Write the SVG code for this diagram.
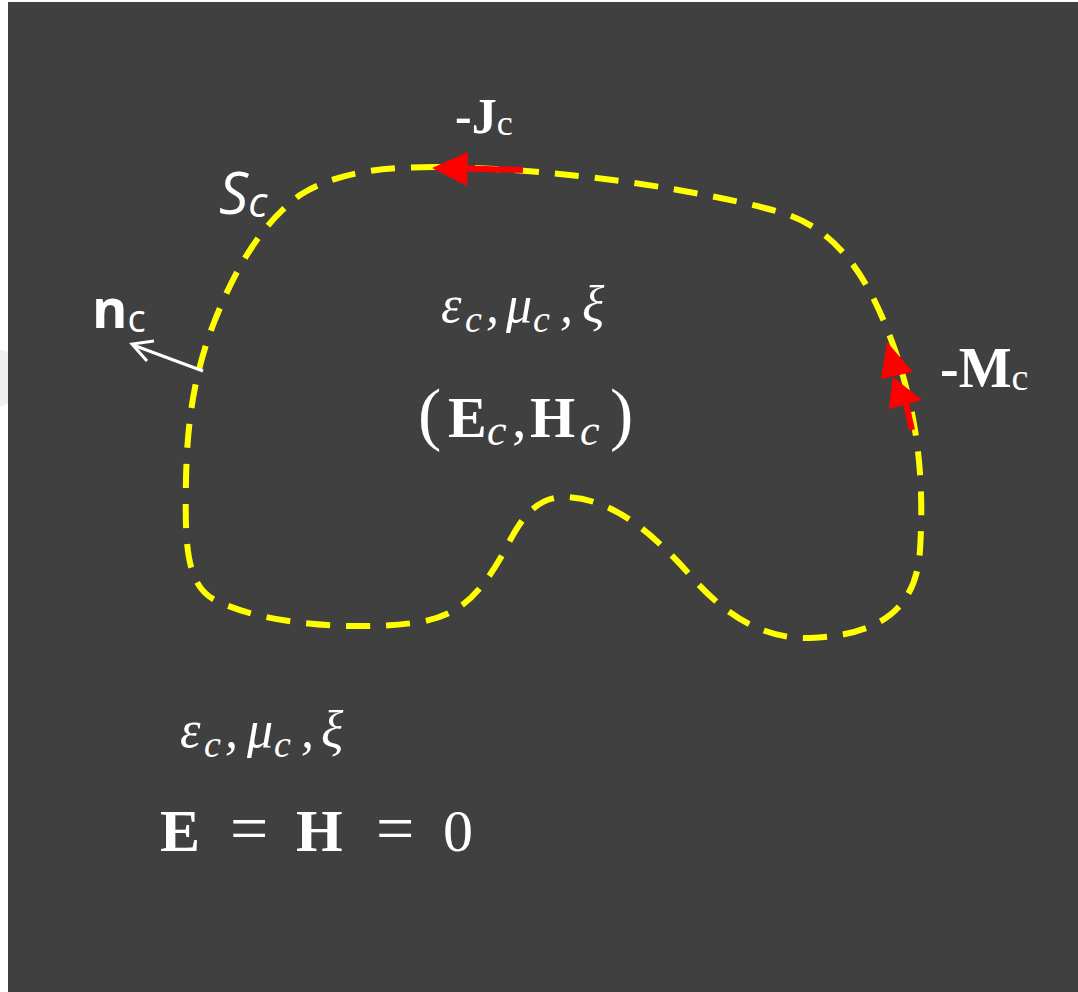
<svg xmlns="http://www.w3.org/2000/svg" width="1078" height="992" viewBox="0 0 1078 992">
<style>
.serif{font-family:"Liberation Serif","DejaVu Serif",serif;fill:#fff}
.sans{font-family:"Open Sans","Noto Sans","Liberation Sans",sans-serif;fill:#fff}
.math{font-family:"Liberation Serif","DejaVu Serif",serif;font-style:italic;fill:#fff}
.bold{font-weight:bold}
.red{fill:#ff0000}
</style>
<rect x="0" y="0" width="1078" height="992" fill="#ffffff"/>
<ellipse cx="2" cy="378" rx="14" ry="28" fill="#f0f0f0"/>
<rect x="8" y="2" width="1070" height="990" fill="#404040"/>

<g id="surface">
<path d="M435 167 C560 168 700 190 780 212 C840 230 870 280 895 350 C915 410 925 470 920 550 C917 600 890 635 810 638 C760 640 720 610 690 575 C650 530 610 498 565 497 C535 497 520 520 505 550 C480 595 460 615 420 622 C370 630 270 628 215 600 C185 585 185 540 186 480 C187 420 195 370 215 320 C235 270 260 225 300 195 C340 170 390 167 435 167 Z" fill="none" stroke="#ffff00" stroke-width="6" stroke-dasharray="24 16"/>
</g>

<g id="connectors">
<g id="J-arrow">
<path d="M523 170 L466 168.5" stroke="#ff0000" stroke-width="6" fill="none"/>
<polygon class="red" points="432,168 468,152 467,186"/>
</g>
<g id="M-arrow">
<path d="M912 430 L906 403" stroke="#ff0000" stroke-width="6" fill="none"/>
<polygon class="red" points="887,342 913,372 881,379"/>
<polygon class="red" points="893,377 922,400 889,409"/>
</g>
<g id="n-arrow">
<path d="M203 371 L133 345" stroke="#fff" stroke-width="3" fill="none"/>
<path d="M154 341 L132 344 L147 361" stroke="#fff" stroke-width="3" fill="none" stroke-linejoin="miter"/>
</g>
</g>

<g id="label-Sc"><text class="sans" x="219" y="214" font-size="58" font-style="italic">S<tspan font-size="42" dy="3">c</tspan></text></g>
<g id="label-nc"><text class="sans" x="92" y="328" font-size="54" font-weight="bold">n<tspan font-size="38" font-weight="normal" dy="4">c</tspan></text></g>
<g id="label-Jc"><text class="serif" x="455" y="133" font-size="50" font-weight="bold">-J<tspan font-size="36" font-weight="normal" dy="2">c</tspan></text></g>
<g id="label-Mc"><text class="serif" x="940" y="387" font-size="56" font-weight="bold">-M<tspan font-size="38" font-weight="normal" dy="3">c</tspan></text></g>

<g id="inner-params"><text class="math" font-size="52"><tspan x="441" y="322">ε</tspan><tspan x="465" y="332" font-size="38">c</tspan><tspan x="486" y="322">,</tspan><tspan x="506" y="322">μ</tspan><tspan x="533" y="332" font-size="38">c</tspan><tspan x="560" y="322">,</tspan><tspan x="582" y="322">ξ</tspan></text></g>
<g id="inner-fields"><text class="serif" font-size="58"><tspan x="418" y="437" font-size="70">(</tspan><tspan class="bold" x="448" y="437">E</tspan><tspan class="math" x="487" y="445" font-size="44">c</tspan><tspan x="512" y="437">,</tspan><tspan class="bold" x="530" y="437">H</tspan><tspan class="math" x="580" y="445" font-size="44">c</tspan><tspan x="610" y="437" font-size="70">)</tspan></text></g>
<g id="outer-params"><text class="math" font-size="52"><tspan x="180" y="747">ε</tspan><tspan x="204" y="757" font-size="38">c</tspan><tspan x="225" y="747">,</tspan><tspan x="247" y="747">μ</tspan><tspan x="274" y="757" font-size="38">c</tspan><tspan x="301" y="747">,</tspan><tspan x="321" y="747">ξ</tspan></text></g>
<g id="outer-fields"><text class="serif" font-size="60"><tspan class="bold" x="160" y="851">E</tspan><tspan x="230" y="851" font-size="68">=</tspan><tspan class="bold" x="296" y="851">H</tspan><tspan x="376" y="851" font-size="68">=</tspan><tspan x="443" y="851">0</tspan></text></g>
</svg>
